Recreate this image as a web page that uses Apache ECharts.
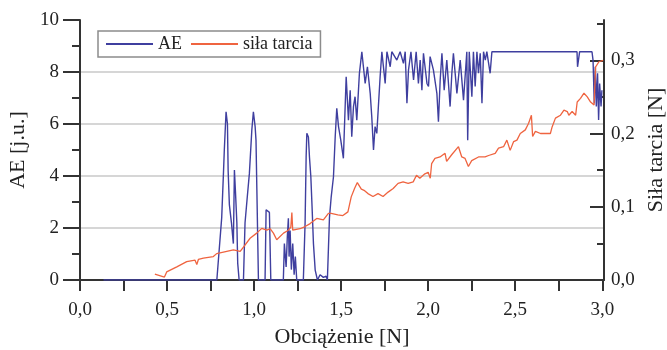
<!DOCTYPE html>
<html lang="pl">
<head>
<meta charset="utf-8">
<title>AE i siła tarcia</title>
<script src="https://cdn.jsdelivr.net/npm/echarts@6.0.0/dist/echarts.min.js"></script>
<style>
	html, body { margin: 0; padding: 0; background: #fff; }
	#chart { width: 667px; height: 350px; }
</style>
</head>
<body>
<div id="chart"></div>
<script>
// obciążenie [N] / AE [j.u.]
var aeLoad = [0.135, 0.786, 0.814, 0.824, 0.829, 0.839, 0.847, 0.851, 0.858, 0.870, 0.878, 0.881, 0.887, 0.893, 0.901, 0.906, 0.914,
	0.939, 0.948, 0.961, 0.973, 0.987, 0.996, 1.006, 1.011, 1.016, 1.021, 1.025,
	1.063, 1.069, 1.076, 1.088, 1.096,
	1.168, 1.174, 1.184, 1.191, 1.197, 1.201, 1.207, 1.214, 1.222, 1.230, 1.237, 1.245,
	1.283, 1.293, 1.299, 1.303, 1.312, 1.318, 1.326, 1.333, 1.341, 1.351, 1.364, 1.379, 1.398, 1.414, 1.421,
	1.433, 1.443, 1.456, 1.466, 1.475, 1.485, 1.498, 1.513, 1.529, 1.542, 1.552, 1.561, 1.571, 1.580, 1.590,
	1.605, 1.619, 1.628, 1.638, 1.651, 1.667, 1.676, 1.686, 1.695, 1.705, 1.714, 1.724, 1.734, 1.753, 1.763,
	1.782, 1.791, 1.820, 1.839, 1.858, 1.868, 1.878, 1.887, 1.901, 1.916, 1.931, 1.944, 1.954, 1.964, 1.973,
	1.993, 2.002, 2.011, 2.030, 2.050, 2.059, 2.069, 2.079, 2.092, 2.107, 2.126, 2.136, 2.145, 2.165, 2.184,
	2.203, 2.222, 2.227, 2.236, 2.251, 2.260, 2.270, 2.280, 2.289, 2.299, 2.309, 2.318, 2.328, 2.337, 2.356, 2.366,
	2.855, 2.858, 2.866, 2.870, 2.941, 2.947, 2.954, 2.960, 2.966, 2.973, 2.979, 2.985, 2.993, 2.998];
var aeValue = [0, 0, 2.4, 4.1, 5.0, 6.47, 6.0, 4.2, 2.9, 2.2, 1.6, 1.4, 4.23, 3.4, 2.2, 0.64, 0,
	0, 2.2, 3.2, 4.1, 5.77, 6.47, 5.9, 5.38, 3.46, 1.54, 0,
	0, 2.7, 2.77, 2.6, 0,
	0, 1.4, 0.5, 1.67, 2.37, 0.9, 1.9, 0.4, 1.4, 0.2, 0.9, 0,
	0, 2.2, 4.74, 5.64, 5.5, 4.74, 3.97, 2.82, 1.4, 0.38, 0, 0.2, 0.1, 0.15, 0,
	2.4, 3.2, 3.97, 5.51, 6.6, 5.9, 5.38, 4.68, 7.82, 6.15, 7.3, 5.51, 6.67, 7.05, 6.15,
	7.95, 8.78, 8.2, 7.56, 8.2, 7.18, 6.28, 5.0, 5.9, 5.64, 6.67, 7.82, 8.78, 7.56, 8.78,
	8.2, 8.78, 8.46, 8.78, 8.33, 8.78, 6.8, 8.08, 8.78, 7.69, 8.78, 7.56, 8.46, 7.3, 8.72,
	7.56, 7.44, 8.59, 8.08, 7.18, 6.09, 7.69, 8.72, 7.3, 8.46, 6.67, 7.95, 8.72, 7.18, 8.46,
	6.92, 8.78, 5.38, 8.78, 7.05, 8.78, 7.44, 8.78, 7.95, 8.72, 6.8, 8.78, 8.46, 8.78, 7.95, 8.78,
	8.78, 8.2, 8.2, 8.78, 8.78, 8.46, 6.8, 8.2, 6.67, 7.95, 6.15, 7.56, 6.67, 7.3];

// obciążenie [N] / siła tarcia [N]
var frLoad = [0.430, 0.441, 0.485, 0.498, 0.556, 0.613, 0.661, 0.671, 0.680, 0.709, 0.766, 0.785, 0.795, 0.843, 0.881,
	0.920, 0.939, 0.977, 1.015, 1.044, 1.073, 1.092, 1.111, 1.130, 1.169, 1.197, 1.211, 1.217, 1.222, 1.264,
	1.293, 1.322, 1.360, 1.398, 1.427, 1.443, 1.481, 1.510, 1.539, 1.558, 1.577, 1.593, 1.616, 1.635, 1.654,
	1.683, 1.712, 1.741, 1.770, 1.799, 1.827, 1.856, 1.885, 1.914, 1.933, 1.952, 1.981, 2.000, 2.012, 2.020,
	2.039, 2.068, 2.097, 2.106, 2.135, 2.174, 2.193, 2.212, 2.231, 2.250, 2.289, 2.327, 2.347, 2.385, 2.404,
	2.433, 2.452, 2.471, 2.491, 2.510, 2.529, 2.558, 2.577, 2.593, 2.600, 2.616, 2.645, 2.674, 2.702, 2.712,
	2.731, 2.760, 2.780, 2.799, 2.808, 2.827, 2.847, 2.856, 2.875, 2.895, 2.914, 2.933, 2.953, 2.962, 2.981, 3.005];
var frValue = [0.008, 0.008, 0.004, 0.011, 0.018, 0.025, 0.027, 0.021, 0.028, 0.030, 0.032, 0.036, 0.036, 0.039, 0.041,
	0.039, 0.045, 0.057, 0.064, 0.0705, 0.068, 0.070, 0.064, 0.055, 0.064, 0.068, 0.072, 0.092, 0.068, 0.070,
	0.073, 0.077, 0.084, 0.082, 0.091, 0.091, 0.089, 0.088, 0.093, 0.1135, 0.125, 0.133, 0.124, 0.122, 0.118,
	0.114, 0.118, 0.114, 0.120, 0.125, 0.132, 0.134, 0.132, 0.134, 0.143, 0.139, 0.145, 0.147, 0.139, 0.159,
	0.166, 0.168, 0.173, 0.162, 0.171, 0.182, 0.168, 0.166, 0.155, 0.163, 0.168, 0.168, 0.170, 0.173, 0.180,
	0.182, 0.191, 0.177, 0.189, 0.191, 0.200, 0.205, 0.214, 0.225, 0.196, 0.203, 0.200, 0.200, 0.200, 0.209,
	0.221, 0.225, 0.232, 0.230, 0.225, 0.230, 0.225, 0.243, 0.248, 0.255, 0.250, 0.243, 0.239, 0.291, 0.298, 0.300];

// ticks
var xTicks = [0, 0.25, 0.5, 0.75, 1, 1.25, 1.5, 1.75, 2, 2.25, 2.5, 2.75, 3];
var xLabels = [0, 0.5, 1, 1.5, 2, 2.5, 3];
var frTicks = [0, 0.1, 0.2, 0.3];
var frMinorTicks = [0.05, 0.15, 0.25, 0.35];

var serif = 'Liberation Serif';
var axisColor = '#333';

function comma(v) {
	return v.toFixed(1).replace('.', ',');
}

var aeData = aeLoad.map(function (x, i) { return [x, aeValue[i]]; });
var frData = frLoad.map(function (x, i) { return [x, frValue[i]]; });

var option = {
	animation: false,
	backgroundColor: '#fff',
	textStyle: { fontFamily: serif },
	grid: { left: 80, right: 63, top: 20, bottom: 70, outerBoundsMode: 'none', containLabel: false },
	legend: {
		data: ['AE', 'siła tarcia'],
		left: 98,
		top: 31,
		orient: 'horizontal',
		icon: 'rect',
		itemWidth: 47,
		itemHeight: 2,
		itemGap: 9,
		padding: [4, 8, 4, 8],
		borderColor: '#8c8c8c',
		borderWidth: 1.5,
		borderRadius: 0,
		textStyle: { fontFamily: serif, fontSize: 18, color: '#222', padding: [0, 0, 0, 0] }
	},
	xAxis: {
		type: 'value',
		min: 0,
		max: 3.01,
		name: 'Obciążenie [N]',
		nameLocation: 'middle',
		nameGap: 46,
		nameTextStyle: { fontFamily: serif, fontSize: 22, color: '#222' },
		axisLine: { show: true, onZero: false, lineStyle: { color: axisColor, width: 2 } },
		axisTick: { show: true, inside: false, length: 11, customValues: xTicks, lineStyle: { color: axisColor, width: 2 } },
		axisLabel: { customValues: xLabels, margin: 21, fontFamily: serif, fontSize: 19, color: '#222', formatter: comma },
		splitLine: { show: false }
	},
	yAxis: [{
		type: 'value',
		position: 'left',
		min: 0,
		max: 10,
		interval: 2,
		name: 'AE [j.u.]',
		nameLocation: 'middle',
		nameRotate: 90,
		nameGap: 47,
		nameTextStyle: { fontFamily: serif, fontSize: 22, color: '#222' },
		axisLine: { show: true, lineStyle: { color: axisColor, width: 2 } },
		axisTick: { show: true, inside: false, length: 17, lineStyle: { color: axisColor, width: 2 } },
		minorTick: { show: true, splitNumber: 2, length: 8, lineStyle: { color: axisColor, width: 2 } },
		axisLabel: { margin: 21, fontFamily: serif, fontSize: 19, color: '#222' },
		splitLine: { show: true, showMinLine: false, showMaxLine: false, lineStyle: { color: '#c8c8c8', width: 1.5 } }
	}, {
		type: 'value',
		position: 'right',
		min: 0,
		max: 0.355,
		name: 'Siła tarcia [N]',
		nameLocation: 'middle',
		nameRotate: 90,
		nameGap: 39,
		nameTextStyle: { fontFamily: serif, fontSize: 22, color: '#222' },
		axisLine: { show: true, lineStyle: { color: axisColor, width: 2 } },
		axisTick: { show: true, inside: true, length: 14, customValues: frTicks, lineStyle: { color: axisColor, width: 2 } },
		axisLabel: { customValues: frTicks, margin: 7, fontFamily: serif, fontSize: 19, color: '#222', formatter: comma },
		splitLine: { show: false }
	}, {
		type: 'value',
		position: 'right',
		min: 0,
		max: 0.355,
		axisLine: { show: false },
		axisTick: { show: true, inside: true, length: 7, customValues: frMinorTicks, lineStyle: { color: axisColor, width: 2 } },
		axisLabel: { show: false },
		splitLine: { show: false }
	}],
	series: [{
		name: 'AE',
		type: 'line',
		yAxisIndex: 0,
		data: aeData,
		symbol: 'none',
		showSymbol: false,
		color: '#3f3f9f',
		lineStyle: { color: '#3f3f9f', width: 1.4 }
	}, {
		name: 'siła tarcia',
		type: 'line',
		yAxisIndex: 1,
		data: frData,
		symbol: 'none',
		showSymbol: false,
		color: '#ef6440',
		lineStyle: { color: '#ef6440', width: 1.3 }
	}]
};

var chart = echarts.init(document.getElementById('chart'), null, { renderer: 'canvas' });
chart.setOption(option);
</script>
</body>
</html>
